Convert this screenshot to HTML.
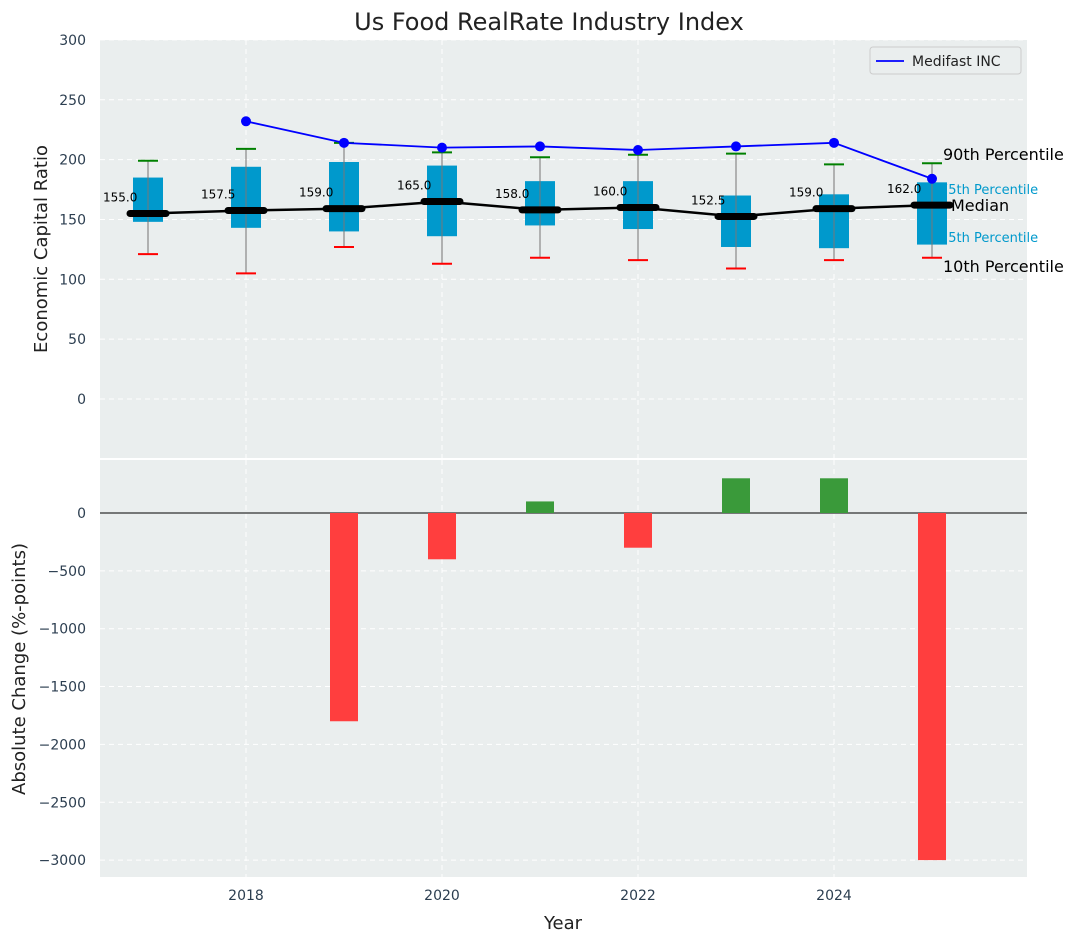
<!DOCTYPE html>
<html><head><meta charset="utf-8"><style>
body{margin:0;background:#fff;font-family:"Liberation Sans","DejaVu Sans",sans-serif}
svg text{font-family:"DejaVu Sans","Liberation Sans",sans-serif}
</style></head><body>
<svg id="c" width="1077" height="942" xmlns="http://www.w3.org/2000/svg"></svg>
<script>
const years=[2017,2018,2019,2020,2021,2022,2023,2024,2025];
const p10=[121,105,127,113,118,116,109,116,118];
const p25=[148,143,140,136,145,142,127,126,129];
const medians=[155,157.5,159,165,158,160,152.5,159,162];
const p75=[185,194,198,195,182,182,170,171,181];
const p90=[199,209,214,206,202,204,205,196,197];
const companyYears=[2018,2019,2020,2021,2022,2023,2024,2025];
const companyVals=[232,214,210,211,208,211,214,184];
const changeYears=[2019,2020,2021,2022,2023,2024,2025];
const changeVals=[-1800,-400,100,-300,300,300,-3000];
const topTicks=[0,50,100,150,200,250,300];
const botTicks=[0,-500,-1000,-1500,-2000,-2500,-3000];
const xTicks=[2018,2020,2022,2024];

const NS="http://www.w3.org/2000/svg";
const svg=document.getElementById('c');
function el(t,a,p){const e=document.createElementNS(NS,t);for(const k in a)e.setAttribute(k,a[k]);(p||svg).appendChild(e);return e;}
const L=100,R=1027;
const x=v=>148+(v-2017)*98;
const yT=v=>399-v*1.197;
const yB=v=>513-v*0.1157;

let e=el('rect',{x:L,y:40,width:R-L,height:418,fill:'#eaeeee'});

e=el('rect',{x:L,y:460,width:R-L,height:417,fill:'#eaeeee'});


topTicks.forEach(t=>{
 el('line',{x1:L,x2:R,y1:yT(t),y2:yT(t),stroke:'#fff','stroke-dasharray':'5,4','stroke-width':1});
 const tx=el('text',{x:86,y:yT(t)+5,'text-anchor':'end','font-size':14,fill:'#2c3e50'});tx.textContent=t;
 
});
botTicks.forEach(t=>{
 el('line',{x1:L,x2:R,y1:yB(t),y2:yB(t),stroke:'#fff','stroke-dasharray':'5,4','stroke-width':1});
 const tx=el('text',{x:86,y:yB(t)+5,'text-anchor':'end','font-size':14,fill:'#2c3e50'});tx.textContent=t<0?'\u2212'+(-t):t;
 
});
xTicks.forEach(t=>{
 el('line',{x1:x(t),x2:x(t),y1:40,y2:458,stroke:'#fff','stroke-dasharray':'5,4'});
 el('line',{x1:x(t),x2:x(t),y1:460,y2:877,stroke:'#fff','stroke-dasharray':'5,4'});
 const tx=el('text',{x:x(t),y:900,'text-anchor':'middle','font-size':14,fill:'#2c3e50'});tx.textContent=t;
 
});

const last=years.length-1;
const my=yT(medians[last]);
[['90th Percentile',16,'#000',943,my-45],['75th Percentile',13,'#0099cc',940,my-11],['25th Percentile',13,'#0099cc',940,my+37],['10th Percentile',16,'#000',943,my+67]].forEach(a=>{
 const tx=el('text',{x:a[3],y:a[4],'font-size':a[1],fill:a[2]});tx.textContent=a[0];
 
});

years.forEach((yr,i)=>{
 const cx=x(yr);
 const g=el('g',{});
 el('line',{x1:cx,x2:cx,y1:yT(p90[i]),y2:yT(p10[i]),stroke:'#888','stroke-width':1.2},g);
 el('rect',{x:cx-15,y:yT(p75[i]),width:30,height:yT(p25[i])-yT(p75[i]),fill:'#0099cc'},g);
 el('line',{x1:cx,x2:cx,y1:yT(p75[i]),y2:yT(p25[i]),stroke:'#777','stroke-width':1},g);
 el('line',{x1:cx-10,x2:cx+10,y1:yT(p90[i]),y2:yT(p90[i]),stroke:'green','stroke-width':2},g);
 el('line',{x1:cx-10,x2:cx+10,y1:yT(p10[i]),y2:yT(p10[i]),stroke:'red','stroke-width':2},g);
 const tx=el('text',{x:cx-45,y:yT(medians[i])-12,'font-size':12,fill:'#000'},g);tx.textContent=medians[i].toFixed(1);
});
let pts=years.map((yr,i)=>x(yr)+','+yT(medians[i])).join(' ');
e=el('polyline',{points:pts,fill:'none',stroke:'#000','stroke-width':2.5});

years.forEach((yr,i)=>{
 const m=el('line',{x1:x(yr)-18,x2:x(yr)+18,y1:yT(medians[i]),y2:yT(medians[i]),stroke:'#000','stroke-width':7,'stroke-linecap':'round'});
 
});
let tx=el('text',{x:951,y:my+6,'font-size':16,fill:'#000'});tx.textContent='Median';


pts=companyYears.map((yr,i)=>x(yr)+','+yT(companyVals[i])).join(' ');
e=el('polyline',{points:pts,fill:'none',stroke:'blue','stroke-width':1.8});

companyYears.forEach((yr,i)=>{
 const c=el('circle',{cx:x(yr),cy:yT(companyVals[i]),r:5,fill:'blue'});
 
});

const lg=el('g',{});
el('rect',{x:870,y:47,width:151,height:27,rx:3,fill:'#eaeeee',stroke:'#ccc'},lg);
el('line',{x1:876,x2:904,y1:61,y2:61,stroke:'blue','stroke-width':1.8},lg);
tx=el('text',{x:912,y:66,'font-size':14,fill:'#222'},lg);tx.textContent='Medifast INC';

el('line',{x1:L,x2:R,y1:yB(0),y2:yB(0),stroke:'#000','stroke-width':1});
changeYears.forEach((yr,i)=>{
 const v=changeVals[i];
 const b=el('rect',{x:x(yr)-14,y:Math.min(yB(v),yB(0)),width:28,height:Math.abs(yB(v)-yB(0)),fill:v<0?'#ff3e3e':'#3a9a3a'});
 
});

tx=el('text',{x:549,y:30,'text-anchor':'middle','font-size':24,fill:'#222'});tx.textContent='Us Food RealRate Industry Index';

tx=el('text',{x:0,y:0,'text-anchor':'middle','font-size':18,fill:'#222',transform:'translate(47,249) rotate(-90)'});tx.textContent='Economic Capital Ratio';

tx=el('text',{x:0,y:0,'text-anchor':'middle','font-size':18,fill:'#222',transform:'translate(25,669) rotate(-90)'});tx.textContent='Absolute Change (%-points)';

tx=el('text',{x:563,y:929,'text-anchor':'middle','font-size':18,fill:'#222'});tx.textContent='Year';

</script>
</body></html>
